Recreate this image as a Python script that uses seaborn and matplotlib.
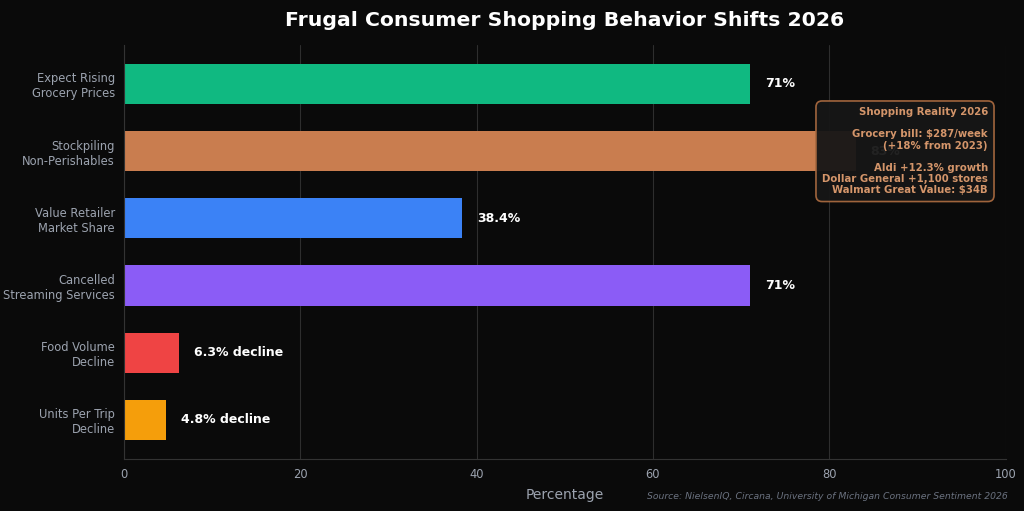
import pandas as pd
import matplotlib.pyplot as plt
import seaborn as sns

# data
categories = ['Expect Rising\nGrocery Prices', 'Stockpiling\nNon-Perishables',
              'Value Retailer\nMarket Share', 'Cancelled\nStreaming Services',
              'Food Volume\nDecline', 'Units Per Trip\nDecline']
values = [71, 83, 38.4, 71, 6.3, 4.8]
labels = ['71%', '83%', '38.4%', '71%', '6.3% decline', '4.8% decline']
colors = ['#10b981', '#c97d4f', '#3b82f6', '#8b5cf6', '#ef4444', '#f59e0b']

df = pd.DataFrame({'Category': categories, 'Value': values})

bg = '#0a0a0a'
sns.set_style('dark')
plt.rcParams['font.family'] = 'DejaVu Sans'

fig, ax = plt.subplots(figsize=(10.24, 5.11), dpi=100)
fig.patch.set_facecolor(bg)
ax.set_facecolor(bg)

sns.barplot(data=df, y='Category', x='Value', hue='Category', palette=colors,
            orient='h', width=0.6, legend=False, ax=ax, saturation=1,
            linewidth=0)

# 数值标注
for i, (v, lab) in enumerate(zip(values, labels)):
    ax.text(v + 1.7, i, lab, va='center', ha='left', color='white',
            fontsize=9, fontweight='bold')

ax.set_xlim(0, 100)
ax.set_ylim(5.58, -0.58)
ax.grid(axis='x', color='#ffffff', alpha=0.15, linewidth=0.8)
ax.grid(axis='y', visible=False)
ax.set_axisbelow(True)

for s in ['top', 'right']:
    ax.spines[s].set_visible(False)
for s in ['left', 'bottom']:
    ax.spines[s].set_color('#333333')

ax.tick_params(axis='y', colors='#9ca3af', labelsize=8.3, length=3)
ax.tick_params(axis='x', colors='#9ca3af', labelsize=8.3, length=3)
ax.set_ylabel('')
ax.set_xlabel('Percentage', color='#9ca3af', fontsize=10, labelpad=5)
ax.set_title('Frugal Consumer Shopping Behavior Shifts 2026', color='white',
             fontsize=14.7, fontweight='bold', pad=14)

# 说明框
note = ('Shopping Reality 2026\n\n'
        'Grocery bill: $287/week\n(+18% from 2023)\n\n'
        'Aldi +12.3% growth\nDollar General +1,100 stores\n'
        'Walmart Great Value: $34B')
ax.text(0.98, 0.85, note, transform=ax.transAxes, ha='right', va='top',
        color='#d4956a', fontsize=7.3, fontweight='bold', zorder=10,
        linespacing=1.15,
        bbox=dict(boxstyle='round,pad=0.6', facecolor='#161616', alpha=0.95,
                  edgecolor='#a8693f', linewidth=1.2))

fig.text(0.984, 0.02, 'Source: NielsenIQ, Circana, University of Michigan Consumer Sentiment 2026',
         ha='right', va='bottom', color='#6b7280', fontsize=6.7, style='italic')

plt.subplots_adjust(left=0.121, right=0.982, top=0.912, bottom=0.102)
plt.savefig('out.png', dpi=100, facecolor=bg)
